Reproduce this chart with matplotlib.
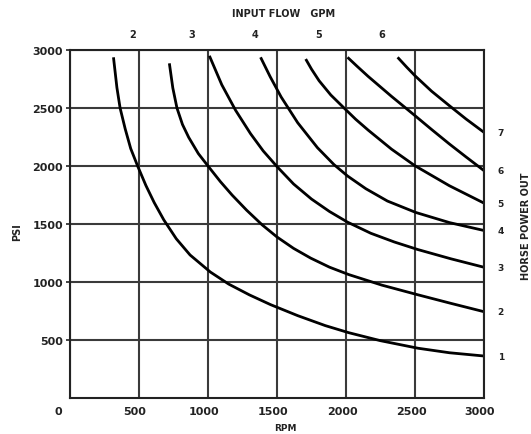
import matplotlib.pyplot as plt
import matplotlib.transforms as mtransforms

# readings: RPM vs PSI for each horsepower curve
hp1_rpm = [315, 340, 363, 400, 440, 490, 550, 610, 680, 770, 870, 1017, 1150, 1300, 1453,
           1650, 1850, 2020, 2250, 2522, 2750, 3000]
hp1_psi = [2937, 2675, 2500, 2320, 2150, 2000, 1832, 1685, 1535, 1373, 1233, 1086, 982, 889, 805,
           710, 624, 563, 494, 429, 390, 362]
hp2_rpm = [720, 745, 775, 815, 860, 930, 1000, 1090, 1175, 1280, 1393, 1500, 1620, 1744, 1880,
           2020, 2260, 2520, 2760, 3000]
hp2_psi = [2885, 2673, 2500, 2358, 2247, 2107, 2000, 1865, 1749, 1619, 1492, 1388, 1290, 1206, 1128,
           1064, 973, 890, 816, 744]
hp3_rpm = [1010, 1100, 1200, 1308, 1400, 1500, 1620, 1750, 1880, 2011, 2180, 2350, 2520, 2760, 3000]
hp3_psi = [2950, 2700, 2480, 2279, 2130, 1995, 1845, 1715, 1608, 1516, 1420, 1345, 1280, 1200, 1127]
hp4_rpm = [1381, 1450, 1530, 1650, 1793, 1913, 2011, 2144, 2300, 2507, 2750, 3000]
hp4_psi = [2937, 2771, 2595, 2373, 2158, 2012, 1914, 1804, 1698, 1599, 1512, 1444]
hp5_rpm = [1708, 1750, 1805, 1890, 1986, 2070, 2160, 2330, 2500, 2749, 3000]
hp5_psi = [2922, 2835, 2735, 2612, 2500, 2403, 2310, 2145, 2002, 1830, 1680]
hp6_rpm = [2011, 2080, 2160, 2330, 2500, 2620, 2749, 2870, 3000]
hp6_psi = [2937, 2860, 2773, 2600, 2434, 2315, 2190, 2078, 1960]
hp7_rpm = [2374, 2440, 2500, 2620, 2749, 2870, 3000]
hp7_psi = [2937, 2852, 2778, 2645, 2520, 2405, 2290]

hp_labels = ['1', '2', '3', '4', '5', '6', '7']

# input flow scale on top (GPM label positions in RPM)
gpm_rpm = [451, 880, 1337, 1802, 2260]
gpm_labels = ['2', '3', '4', '5', '6']

rpm_ticks = [0, 500, 1000, 1500, 2000, 2500, 3000]
psi_ticks = [500, 1000, 1500, 2000, 2500, 3000]

ink = '#222222'
fnt = dict(family='DejaVu Sans', weight='bold', color=ink)

fig = plt.figure(figsize=(5.31, 4.35), dpi=100)
ax = fig.add_axes([70 / 531, 36 / 435, 414 / 531, 348 / 435])
ax.set_xlim(0, 3000)
ax.set_ylim(0, 3000)

ax.set_xticks(rpm_ticks)
ax.set_xticklabels([str(v) for v in rpm_ticks], fontsize=8, **fnt)
ax.set_yticks(psi_ticks)
ax.set_yticklabels([str(v) for v in psi_ticks], fontsize=8, **fnt)
ax.tick_params(axis='x', length=0, pad=6)
ax.tick_params(axis='y', length=3, width=1.2, color=ink, pad=2)
# bottom labels sit a little left of the grid lines, the 0 more so
for i, lab in enumerate(ax.get_xticklabels()):
    dx = -12 if i == 0 else -4
    shift = mtransforms.ScaledTranslation(dx / 100, 0, fig.dpi_scale_trans)
    lab.set_transform(lab.get_transform() + shift)

ax.grid(True, color='#3a3a3a', lw=1.5)
for s in ax.spines.values():
    s.set_color(ink)
    s.set_linewidth(1.5)

curves = [(hp1_rpm, hp1_psi), (hp2_rpm, hp2_psi), (hp3_rpm, hp3_psi),
          (hp4_rpm, hp4_psi), (hp5_rpm, hp5_psi), (hp6_rpm, hp6_psi),
          (hp7_rpm, hp7_psi)]
for (r, p), lab in zip(curves, hp_labels):
    ax.plot(r, p, color='black', lw=2.0, solid_capstyle='butt', solid_joinstyle='round')
    ax.annotate(lab, (r[-1], p[-1]), xytext=(12, 0), textcoords='offset points',
                ha='center', va='center', fontsize=6.5, annotation_clip=False, **fnt)

# top flow axis
top = ax.twiny()
top.set_xlim(ax.get_xlim())
top.set_xticks(gpm_rpm)
top.set_xticklabels(gpm_labels, fontsize=7, **fnt)
top.tick_params(axis='x', length=0, pad=8)
for s in top.spines.values():
    s.set_visible(False)

fig.text(284 / 531, 1 - 14 / 435, 'INPUT FLOW   GPM', ha='center', va='center', fontsize=7, **fnt)
fig.text(285 / 531, 1 - 429 / 435, 'RPM', ha='center', va='center', fontsize=6.5, **fnt)
fig.text(17 / 531, 1 - 232 / 435, 'PSI', ha='center', va='center', rotation=90, fontsize=7, **fnt)
fig.text(526 / 531, 1 - 226 / 435, 'HORSE POWER OUT', ha='center', va='center', rotation=90,
         fontsize=7, **fnt)

fig.savefig('out.png', dpi=100, facecolor='white')
